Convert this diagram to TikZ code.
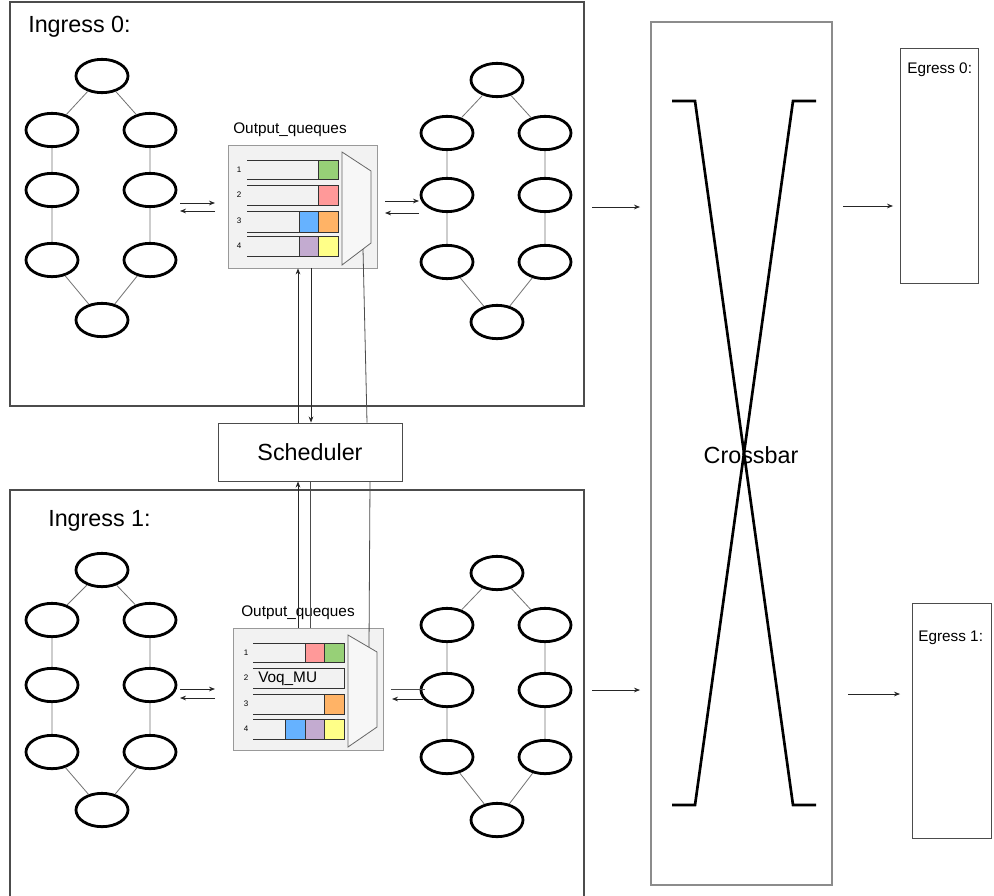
\documentclass[tikz,border=0pt]{standalone}
\usepackage{fontspec}
\setmainfont{Liberation Sans}
\usetikzlibrary{shapes.geometric,arrows.meta,shadows,calc}
\definecolor{cgreen}{HTML}{97D077}
\definecolor{cred}{HTML}{FF9999}
\definecolor{cblue}{HTML}{66B2FF}
\definecolor{corange}{HTML}{FFB366}
\definecolor{cpurple}{HTML}{C3ABD0}
\definecolor{cyellow}{HTML}{FFFF88}
\newcommand\mkchain[7]{%
  \node[oval] (#1t) at (#2,#3) {};
  \node[oval] (#1a) at (#2-50,#4) {};
  \node[oval] (#1b) at (#2-50,#5) {};
  \node[oval] (#1c) at (#2-50,#6) {};
  \node[oval] (#1d) at (#2+48,#4) {};
  \node[oval] (#1e) at (#2+48,#5) {};
  \node[oval] (#1f) at (#2+48,#6) {};
  \node[oval] (#1z) at (#2,#7) {};
  \draw[link] (#1t)--(#1a) (#1a)--(#1b) (#1b)--(#1c) (#1c)--(#1z)
              (#1t)--(#1d) (#1d)--(#1e) (#1e)--(#1f) (#1f)--(#1z);
}
\begin{document}
\begin{tikzpicture}[x=0.75pt,y=-0.75pt,
  oval/.style={ellipse,draw=black,line width=2.1pt,minimum width=39pt,minimum height=25pt,inner sep=0pt,fill=white},
  link/.style={draw=black!55,line width=0.6pt},
  vline/.style={draw=black!70,line width=0.6pt},
  arr/.style={draw=black!85,line width=0.6pt,-{Stealth[length=4.5pt,width=3.5pt]}},
  frame/.style={draw=black!70,line width=0.8pt,inner sep=0pt},
  qbox/.style={draw=black!40,fill=black!5,line width=0.6pt,inner sep=0pt,
    drop shadow={shadow xshift=1pt,shadow yshift=-1pt,opacity=0.25}},
  qline/.style={draw=black!80,line width=0.7pt},
  cellbox/.style={draw=black!80,line width=0.6pt},
  mux/.style={draw=black!60,fill=black!3,line width=0.6pt},
  big/.style={font=\fontsize{17.5}{20}\selectfont,inner sep=0pt},
  mid/.style={font=\fontsize{11.5}{14}\selectfont,inner sep=0pt},
  tiny/.style={font=\fontsize{6}{7}\selectfont,inner sep=0pt},
  xline/.style={draw=black,line width=2pt}
]
\useasboundingbox (0,0) rectangle (994,895);
\clip (0,0) rectangle (994,895);
\fill[white] (0,0) rectangle (994,895);

% ---------- frames ----------
\node[frame,minimum width=430.5pt,minimum height=303pt] (ing0) at (297,204) {};
\node[frame,minimum width=430.5pt,minimum height=306pt] (ing1) at (297,694) {};
\node[big,anchor=west] (ing0lab) at (28,27) {Ingress 0:};
\node[big,anchor=west] (ing1lab) at (48,521) {Ingress 1:};

% ---------- chains ----------
\mkchain{La}{102}{76}{130}{190}{260}{320}
\mkchain{Ra}{497}{80}{133}{195}{262}{322}
\mkchain{Lb}{102}{570}{620}{685}{752}{810}
\mkchain{Rb}{497}{573}{625}{690}{757}{820}

% ---------- queue box 0 ----------
\node[mid] (q0lab) at (290,130) {Output\_queques};
\node[qbox,minimum width=111.75pt,minimum height=92.25pt] (q0) at (302.5,206.5) {};
\fill[cgreen]  (318,160) rectangle (338,179);
\fill[cred]    (318,185) rectangle (338,205);
\fill[cblue]   (299,211) rectangle (318,232);
\fill[corange] (318,211) rectangle (338,232);
\fill[cpurple] (299,236) rectangle (318,256);
\fill[cyellow] (318,236) rectangle (338,256);
\draw[cellbox] (318,160) -- (318,179) (318,185) -- (318,205)
  (299,211) -- (299,232) (318,211) -- (318,232)
  (299,236) -- (299,256) (318,236) -- (318,256);
\foreach \t/\b in {160/179,185/205,211/232,236/256}
  \draw[qline] (247,\t) -- (338,\t) -- (338,\b) -- (247,\b);
\foreach \n/\y in {1/170,2/195,3/221,4/246}
  \node[tiny] (q0n\n) at (239,\y) {\n};
\draw[mux] (342,152) -- (371,171) -- (371,243) -- (342,265) -- cycle;

% ---------- queue box 1 ----------
\node[mid] (q1lab) at (298,613) {Output\_queques};
\node[qbox,minimum width=112.5pt,minimum height=91.5pt] (q1) at (308,689) {};
\fill[cred]    (305,643) rectangle (324,662);
\fill[cgreen]  (324,643) rectangle (344,662);
\fill[corange] (324,694) rectangle (344,714);
\fill[cblue]   (285,719) rectangle (305,739);
\fill[cpurple] (305,719) rectangle (324,739);
\fill[cyellow] (324,719) rectangle (344,739);
\draw[cellbox] (305,643) -- (305,662) (324,643) -- (324,662)
  (324,694) -- (324,714)
  (285,719) -- (285,739) (305,719) -- (305,739) (324,719) -- (324,739);
\foreach \t/\b in {643/662,668/688,694/714,719/739}
  \draw[qline] (253,\t) -- (344,\t) -- (344,\b) -- (253,\b);
\foreach \n/\y in {1/653,2/678,3/704,4/729}
  \node[tiny] (q1n\n) at (246,\y) {\n};
\node[mid,anchor=west] (voq) at (258,679) {Voq\_MU};
\draw[mux] (348,635) -- (377,652) -- (377,727) -- (348,747) -- cycle;

% ---------- scheduler ----------
\node[draw=black!70,line width=0.7pt,fill=white,minimum width=138pt,minimum height=43.5pt,
      big,inner sep=0pt] (sched) at (310,452) {Scheduler};

\coordinate (xA) at (298,0);
\coordinate (xB) at (311,0);
\coordinate (xC) at (367,0);
\coordinate (xD) at (298,0);
\coordinate (xE) at (310,0);
\coordinate (xF) at (370,0);
\coordinate (muxA) at (363,249);
\coordinate (muxB) at (369,647);
\draw[arr] (xA |- sched.north) -- (xA |- q0.south);
\draw[arr] (xB |- q0.south) -- (xB |- sched.north);
\draw[vline] (muxA) -- (xC |- sched.north);
\draw[arr] (xD |- q1.north) -- (xD |- sched.south);
\draw[vline] (xE |- sched.south) -- (xE |- q1.north);
\draw[vline] (xF |- sched.south) -- (muxB);

% ---------- local arrows ----------
\coordinate (a1s) at (180,203); \coordinate (a1e) at (215,203);
\coordinate (a2s) at (215,211); \coordinate (a2e) at (180,211);
\coordinate (a3s) at (385,201); \coordinate (a3e) at (419,201);
\coordinate (a4s) at (419,213); \coordinate (a4e) at (385,213);
\coordinate (b1s) at (180,689); \coordinate (b1e) at (215,689);
\coordinate (b2s) at (215,698); \coordinate (b2e) at (180,698);
\coordinate (b3s) at (391,689); \coordinate (b3e) at (425,689);
\coordinate (b4s) at (423,699); \coordinate (b4e) at (392,699);
\draw[arr] (a1s) -- (a1e);
\draw[arr] (a2s) -- (a2e);
\draw[arr] (a3s) -- (a3e);
\draw[arr] (a4s) -- (a4e);
\draw[arr] (b1s) -- (b1e);
\draw[arr] (b2s) -- (b2e);
\draw[vline] (b3s) -- (b3e);
\draw[arr] (b4s) -- (b4e);

% ---------- crossbar ----------
\node[draw=black!45,line width=1pt,minimum width=135.75pt,minimum height=647.25pt,inner sep=0pt] (xb) at (741.5,453.5) {};
\node[big] (xblab) at (751,455) {Crossbar};
\draw[xline] (672,101) -- (695,101) -- (793,805) -- (816,805);
\draw[xline] (816,101) -- (793,101) -- (695,805) -- (672,805);

% ---------- egress ----------
\node[draw=black!70,line width=0.7pt,minimum width=58.5pt,minimum height=176.25pt,inner sep=0pt] (eg0) at (939,165.5) {};
\node[draw=black!70,line width=0.7pt,minimum width=59.25pt,minimum height=176.25pt,inner sep=0pt] (eg1) at (951.5,720.5) {};
\node[mid,anchor=west] (eg0lab) at (907,70) {Egress 0:};
\node[mid,anchor=west] (eg1lab) at (918,638) {Egress 1:};

\coordinate (c1s) at (592,207); \coordinate (c1e) at (640,207);
\coordinate (c2s) at (592,690); \coordinate (c2e) at (640,690);
\coordinate (c3s) at (843,206); \coordinate (c3e) at (893,206);
\coordinate (c4s) at (848,694); \coordinate (c4e) at (900,694);
\draw[arr] (c1s) -- (c1e);
\draw[arr] (c2s) -- (c2e);
\draw[arr] (c3s) -- (c3e);
\draw[arr] (c4s) -- (c4e);
\end{tikzpicture}
\end{document}
